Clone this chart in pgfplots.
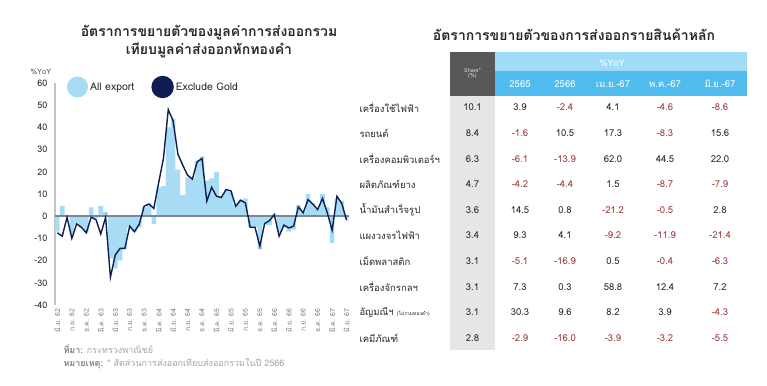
\documentclass[border=0pt]{standalone}
\usepackage{fontspec}
\setmainfont[Script=Thai]{Loma}
\usepackage{pgfplots}
\usepackage{pgfplotstable}
\pgfplotsset{compat=1.18}
\definecolor{barblue}{RGB}{168,220,244}
\definecolor{navy}{RGB}{14,30,82}
\definecolor{zerogray}{RGB}{120,135,150}
\definecolor{axgray}{RGB}{195,195,195}
\definecolor{hdrdark}{RGB}{88,88,88}
\definecolor{hdrlight}{RGB}{160,220,248}
\definecolor{hdrmid}{RGB}{80,188,238}
\definecolor{sharebg}{RGB}{230,230,230}
\definecolor{negred}{RGB}{160,55,55}
\definecolor{txtdark}{RGB}{40,40,40}
\definecolor{notegray}{RGB}{165,165,165}

\pgfplotstableread{
i all exg
0 -7 -7.5
1 4.5 -9
2 0 -0.5
3 -8 -10
4 -4 -3.5
5 -5 -5
6 -7.5 -7.5
7 4 -0.5
8 -1 -1.5
9 4.5 -8
10 2 -0.5
11 -19 -27.5
12 -23.5 -17.5
13 -20 -14.5
14 -15 -14.5
15 -5 -4.5
16 -7 -7
17 -5 -3.5
18 4 4.5
19 5.5 5.5
20 -3.5 3.5
21 13 15
22 13.5 26
23 40 48
24 44 43
25 21 28
26 9.5 23
27 17.5 18.5
28 17 16.7
29 25 24.5
30 27 26
31 16 6.8
32 17 13
33 20 9
34 9 8.4
35 12 12
36 11 11.4
37 5 4.5
38 7.5 7.2
39 8 6
40 -5 -5
41 -5 -5
42 -15 -13.5
43 -4 -3.3
44 -4 -2
45 1 0.7
46 -7 -9
47 -5 -4
48 -7 -5.3
49 -6 -4.5
50 5 4.2
51 2 1.5
52 10 7.5
53 6 5.4
54 3.5 3
55 10 8
56 4 1.5
57 -12 -6.3
58 8 9
59 7 5.7
60 -1 -1.8
}\expdata

\newcommand{\val}[1]{\ifdim #1pt<0pt \textcolor{negred}{#1}\else #1\fi}

\begin{document}
\begin{tikzpicture}
\fill[white] (0pt,0pt) rectangle (767pt,385pt);

% ---------- left chart ----------
\node[font=\bfseries\fontsize{14}{16}\selectfont, text=txtdark] at (209pt,352pt) {อัตราการขยายตัวของมูลค่าการส่งออกรวม};
\node[font=\bfseries\fontsize{14}{16}\selectfont, text=txtdark] at (209pt,335pt) {เทียบมูลค่าส่งออกหักทองคำ};
\node[font=\fontsize{7.5}{8}\selectfont, text=txtdark!80] at (41pt,313pt) {\%YoY};

\begin{axis}[
  at={(55pt,80pt)}, anchor=south west,
  scale only axis, width=294pt, height=222pt,
  xmin=-0.5, xmax=60.5, ymin=-40, ymax=60,
  enlargelimits=false,
  axis x line=bottom, axis y line=left,
  x axis line style={draw=none},
  y axis line style={axgray, line width=1.5pt, -},
  xtick={0,3,...,60},
  xticklabels={มิ.ย. 62, ก.ย. 62, ธ.ค. 62, มี.ค. 63, มิ.ย. 63, ก.ย. 63, ธ.ค. 63, มี.ค. 64, มิ.ย. 64, ก.ย. 64, ธ.ค. 64, มี.ค. 65, มิ.ย. 65, ก.ย. 65, ธ.ค. 65, มี.ค. 66, มิ.ย. 66, ก.ย. 66, ธ.ค. 66, มี.ค. 67, มิ.ย. 67},
  xticklabel style={rotate=90, anchor=east, font=\fontsize{7}{7}\selectfont, text=gray},
  ytick={-40,-30,...,60},
  yticklabel style={font=\fontsize{9}{10}\selectfont, text=txtdark, xshift=-4pt},
  /pgf/number format/assume math mode=true,
  major tick length=0pt,
  tick style={draw=none},
  clip=false,
  legend style={draw=none, fill=none, at={(0.03,0.982)}, anchor=west,
    legend columns=2, font=\fontsize{10.5}{12}\selectfont, text=txtdark,
    /tikz/every even column/.append style={column sep=15pt}},
  legend cell align=left,
]
\addplot[ybar, bar width=0.95, fill=barblue, draw=none,
  legend image code/.code={\fill[barblue] (0pt,0pt) circle (10.5pt);}]
  table[x=i, y=all] {\expdata};
\addlegendentry{All export}
\addplot[zerogray, line width=2.4pt, forget plot] coordinates {(-0.5,0) (60.5,0)};
\addplot[navy, line width=1.4pt, mark=none,
  legend image code/.code={\fill[navy] (0pt,0pt) circle (10.5pt);}]
  table[x=i, y=exg] {\expdata};
\addlegendentry{Exclude Gold}
\end{axis}

\node[anchor=west, text=notegray, font=\fontsize{9}{10}\selectfont] at (60pt,36pt) {\textbf{\textcolor{notegray!80!black}{ที่มา:}} กระทรวงพาณิชย์};
\node[anchor=west, text=notegray, font=\fontsize{9}{10}\selectfont] at (60pt,21pt) {\textbf{\textcolor{notegray!80!black}{หมายเหตุ:}} * สัดส่วนการส่งออกเทียบส่งออกรวมในปี 2566};

% ---------- right table ----------
\node[font=\bfseries\fontsize{14}{16}\selectfont, text=txtdark] at (574pt,350pt) {อัตราการขยายตัวของการส่งออกรายสินค้าหลัก};

\fill[hdrdark] (450pt,289pt) rectangle (495pt,333pt);
\fill[hdrlight] (495pt,314pt) rectangle (747pt,333pt);
\fill[hdrmid] (495pt,289pt) rectangle (747pt,314pt);
\fill[sharebg] (450pt,35pt) rectangle (495pt,289pt);

\node[text=white!85!black, font=\fontsize{5.5}{6}\selectfont, align=center] at (472.5pt,311pt) {Share*\\[-1pt](\%)};
\node[text=white, font=\fontsize{9}{10}\selectfont] at (612pt,322pt) {\%YoY};
\foreach \h/\cx in {2565/520, 2566/565, เม.ย.-67/613, พ.ค.-67/665, มิ.ย.-67/720}
  \node[text=white, font=\fontsize{9.5}{10}\selectfont] at (\cx pt,301pt) {\h};

\foreach \lab/\s/\a/\b/\c/\d/\e [count=\k from 0] in {
  เครื่องใช้ไฟฟ้า/10.1/3.9/-2.4/4.1/-4.6/-8.6,
  รถยนต์/8.4/-1.6/10.5/17.3/-8.3/15.6,
  เครื่องคอมพิวเตอร์ฯ/6.3/-6.1/-13.9/62.0/44.5/22.0,
  ผลิตภัณฑ์ยาง/4.7/-4.2/-4.4/1.5/-8.7/-7.9,
  น้ำมันสำเร็จรูป/3.6/14.5/0.8/-21.2/-0.5/2.8,
  แผงวงจรไฟฟ้า/3.4/9.3/4.1/-9.2/-11.9/-21.4,
  เม็ดพลาสติก/3.1/-5.1/-16.9/0.5/-0.4/-6.3,
  เครื่องจักรกลฯ/3.1/7.3/0.3/58.8/12.4/7.2,
  {อัญมณีฯ {\fontsize{5}{6}\selectfont (ไม่รวมทองคำ)}}/3.1/30.3/9.6/8.2/3.9/-4.3,
  เคมีภัณฑ์/2.8/-2.9/-16.0/-3.9/-3.2/-5.5}
{
  \pgfmathsetmacro{\ry}{385-107.5-25.6*\k}
  \node[anchor=west, text=txtdark, font=\fontsize{9.5}{10}\selectfont] at (356pt,\ry pt) {\lab};
  \node[text=txtdark, font=\fontsize{9.5}{10}\selectfont] at (472.5pt,\ry pt) {\s};
  \node[text=txtdark, font=\fontsize{9.5}{10}\selectfont] at (520pt,\ry pt) {\val{\a}};
  \node[text=txtdark, font=\fontsize{9.5}{10}\selectfont] at (565pt,\ry pt) {\val{\b}};
  \node[text=txtdark, font=\fontsize{9.5}{10}\selectfont] at (613pt,\ry pt) {\val{\c}};
  \node[text=txtdark, font=\fontsize{9.5}{10}\selectfont] at (665pt,\ry pt) {\val{\d}};
  \node[text=txtdark, font=\fontsize{9.5}{10}\selectfont] at (720pt,\ry pt) {\val{\e}};
}

\pgfresetboundingbox
\path[use as bounding box] (0pt,0pt) rectangle (767pt,385pt);
\end{tikzpicture}
\end{document}
